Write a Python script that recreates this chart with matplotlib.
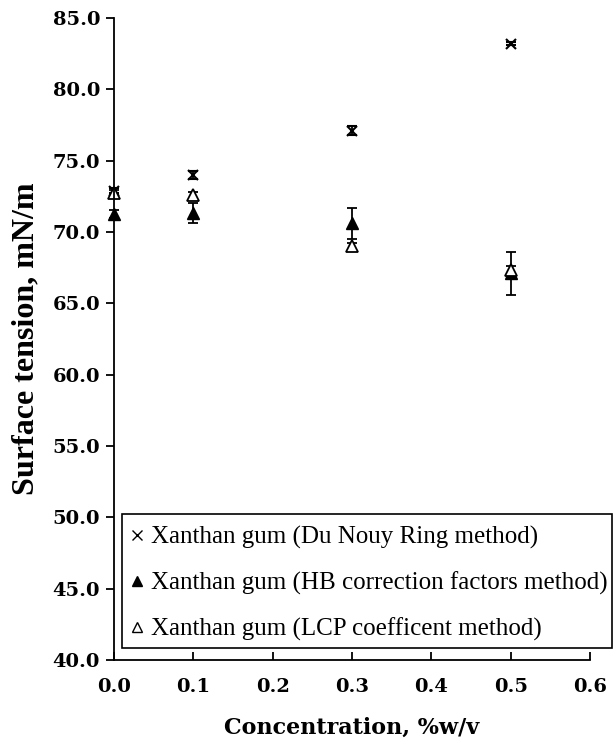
import matplotlib
matplotlib.use("Agg")
import matplotlib.pyplot as plt
from matplotlib.lines import Line2D
from matplotlib.patches import Rectangle

# Concentration (%w/v)
conc = [0.0, 0.1, 0.3, 0.5]

# Surface tension (mN/m) and error bars for each method
ring = [72.9, 74.0, 77.1, 83.2]
ring_err = [0.2, 0.3, 0.3, 0.1]
hb = [71.25, 71.3, 70.6, 67.1]
hb_err = [0.3, 0.7, 1.1, 1.5]
lcp = [72.75, 72.6, 69.0, 67.35]
lcp_err = [0.2, 0.2, 0.2, 0.3]

labels = ["Xanthan gum (Du Nouy Ring method)",
          "Xanthan gum (HB correction factors method)",
          "Xanthan gum (LCP coefficent method)"]

W, H = 613, 743
fig = plt.figure(figsize=(W / 100, H / 100), dpi=100)
ax = fig.add_axes([114 / W, 1 - 660 / H, 476 / W, 642 / H])

eb = dict(ls='none', color='black', ecolor='black', elinewidth=1.3,
          capsize=3.5, capthick=1.3, clip_on=False)
ax.errorbar(conc, ring, yerr=ring_err, marker='x', ms=7, mew=1.5, **eb)
ax.errorbar(conc, hb, yerr=hb_err, marker='^', ms=8.5, mfc='black', **eb)
ax.errorbar(conc, lcp, yerr=lcp_err, marker='^', ms=8.5, mfc='white',
            mew=1.3, **eb)

ax.set_xlim(0, 0.6)
ax.set_ylim(40, 85)
ax.set_xticks([0.0, 0.1, 0.2, 0.3, 0.4, 0.5, 0.6])
ax.set_yticks(range(40, 86, 5))
ax.set_xticklabels([f"{v:.1f}" for v in ax.get_xticks()])
ax.set_yticklabels([f"{v:.1f}" for v in ax.get_yticks()])

for s in ['top', 'right']:
    ax.spines[s].set_visible(False)
for s in ['left', 'bottom']:
    ax.spines[s].set_linewidth(1.3)
ax.tick_params(axis='y', direction='out', length=6, width=1.3, pad=4)
ax.tick_params(axis='x', direction='in', length=6, width=1.3, pad=13)
for t in ax.get_xticklabels() + ax.get_yticklabels():
    t.set_fontfamily('DejaVu Serif')
    t.set_fontweight('bold')
    t.set_fontsize(14)

ax.set_xlabel("Concentration, %w/v", fontfamily='DejaVu Serif',
              fontweight='bold', fontsize=16, labelpad=15)
ax.set_ylabel("Surface tension, mN/m", fontfamily='Liberation Serif',
              fontweight='bold', fontsize=23, labelpad=9)

# legend frame (drawn separately: the original has extra room at the bottom)
fig.patches.append(Rectangle((122 / W, 1 - 648 / H), 490 / W, 134 / H,
                             transform=fig.transFigure, fill=False,
                             edgecolor='black', linewidth=1.2))

handles = [
    Line2D([], [], ls='none', marker='x', ms=7, mew=1.0, color='black'),
    Line2D([], [], ls='none', marker='^', ms=7, color='black'),
    Line2D([], [], ls='none', marker='^', ms=7, mfc='white', mec='black',
           mew=1.0),
]
leg = ax.legend(handles, labels, loc='upper left',
                bbox_to_anchor=(131 / W, 1 - 526 / H),
                bbox_transform=fig.transFigure, frameon=False,
                prop={'family': 'Liberation Serif', 'size': 18},
                handlelength=0.5, handletextpad=0.3, borderpad=0.0,
                labelspacing=0.9, borderaxespad=0)

fig.savefig("out.png", dpi=100)
